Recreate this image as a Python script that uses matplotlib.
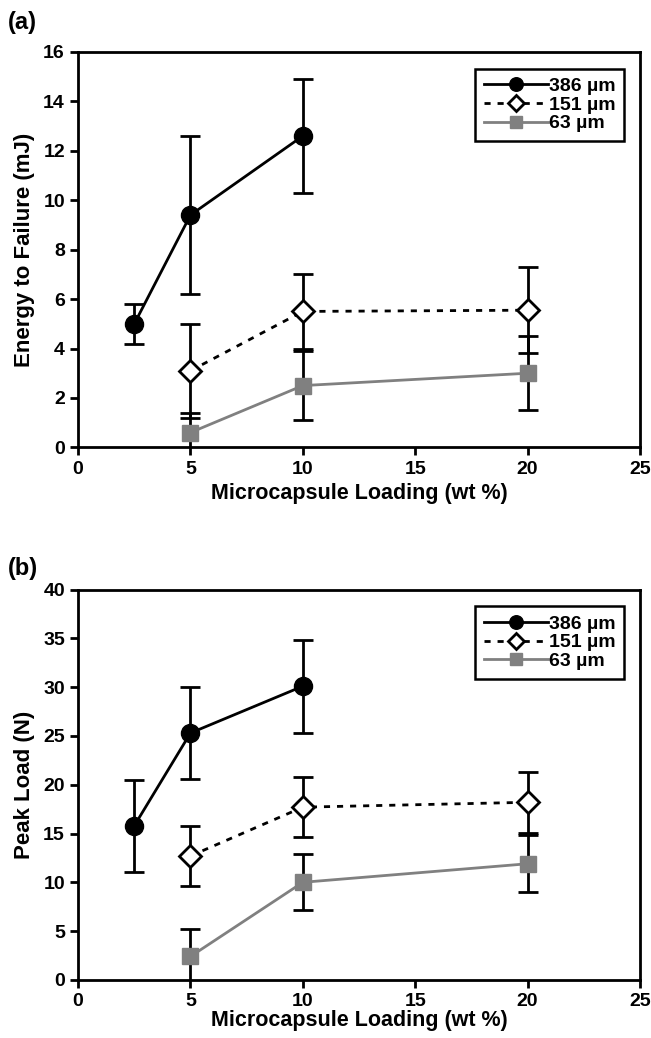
import matplotlib.pyplot as plt
from matplotlib import font_manager

names = {f.name for f in font_manager.fontManager.ttflist}
fam = 'Liberation Sans Narrow' if 'Liberation Sans Narrow' in names else 'Liberation Sans'
plt.rcParams['font.family'] = [fam, 'DejaVu Sans']
plt.rcParams['font.weight'] = 'bold'

labels = ['386 µm', '151 µm', '63 µm']

# panel (a): energy to failure
x386 = [2.5, 5, 10]
e386 = [5.0, 9.4, 12.6]
e386_err = [0.8, 3.2, 2.3]
x151 = [5, 10, 20]
e151 = [3.1, 5.5, 5.55]
e151_err = [1.9, 1.5, 1.75]
x63 = [5, 10, 20]
e63 = [0.6, 2.5, 3.0]
e63_err = [0.8, 1.4, 1.5]

# panel (b): peak load
p386 = [15.8, 25.3, 30.1]
p386_err = [4.7, 4.75, 4.75]
p151 = [12.7, 17.7, 18.2]
p151_err = [3.05, 3.05, 3.1]
p63 = [2.4, 10.0, 11.9]
p63_err = [2.8, 2.85, 2.9]

fig = plt.figure(figsize=(6.51, 10.38), dpi=100)
ax1 = fig.add_axes([0.120, 0.569, 0.863, 0.381])
ax2 = fig.add_axes([0.120, 0.056, 0.863, 0.376])


def panel(ax, ys, errs, ymax, ystep, ylabel):
    xs = [x386, x151, x63]
    for x, y, e in zip(xs, ys, errs):
        ax.errorbar(x, y, yerr=e, fmt='none', ecolor='black', elinewidth=2,
                    capsize=7, capthick=2, zorder=2)
    ax.plot(x386, ys[0], '-', color='black', lw=2, marker='o', ms=13,
            mfc='black', mec='black', zorder=3, label=labels[0])
    ax.plot(x151, ys[1], color='black', lw=2, ls=(0, (2.2, 2.5)), marker='D', ms=11,
            mfc='white', mec='black', mew=2, zorder=3, label=labels[1])
    ax.plot(x63, ys[2], '-', color='#808080', lw=2, marker='s', ms=12,
            mfc='#808080', mec='#808080', zorder=3, label=labels[2])
    ax.set_xlim(0, 25)
    ax.set_ylim(0, ymax)
    ax.set_xticks(range(0, 26, 5))
    ax.set_yticks(range(0, ymax + 1, ystep))
    for s in ax.spines.values():
        s.set_linewidth(2)
    ax.tick_params(direction='out', width=2, length=6, labelsize=14)
    ax.set_ylabel(ylabel, fontsize=16, fontweight='bold', labelpad=6)
    ax.set_xlabel('Microcapsule Loading (wt %)', fontsize=15.5, fontweight='bold')
    leg = ax.legend(loc='upper right', bbox_to_anchor=(0.972, 0.957), fontsize=14,
                    fancybox=False, edgecolor='black', framealpha=1,
                    markerscale=0.75, handlelength=3.3, handletextpad=0.05,
                    borderpad=0.45, labelspacing=0.05, borderaxespad=0)
    leg.get_frame().set_linewidth(1.8)


panel(ax1, [e386, e151, e63], [e386_err, e151_err, e63_err], 16, 2,
      'Energy to Failure (mJ)')
panel(ax2, [p386, p151, p63], [p386_err, p151_err, p63_err], 40, 5,
      'Peak Load (N)')
ax2.xaxis.labelpad = 0

fig.text(0.012, 0.978, '(a)', fontsize=17, fontweight='bold', va='center')
fig.text(0.012, 0.452, '(b)', fontsize=17, fontweight='bold', va='center')

fig.savefig('out.png', dpi=100)
